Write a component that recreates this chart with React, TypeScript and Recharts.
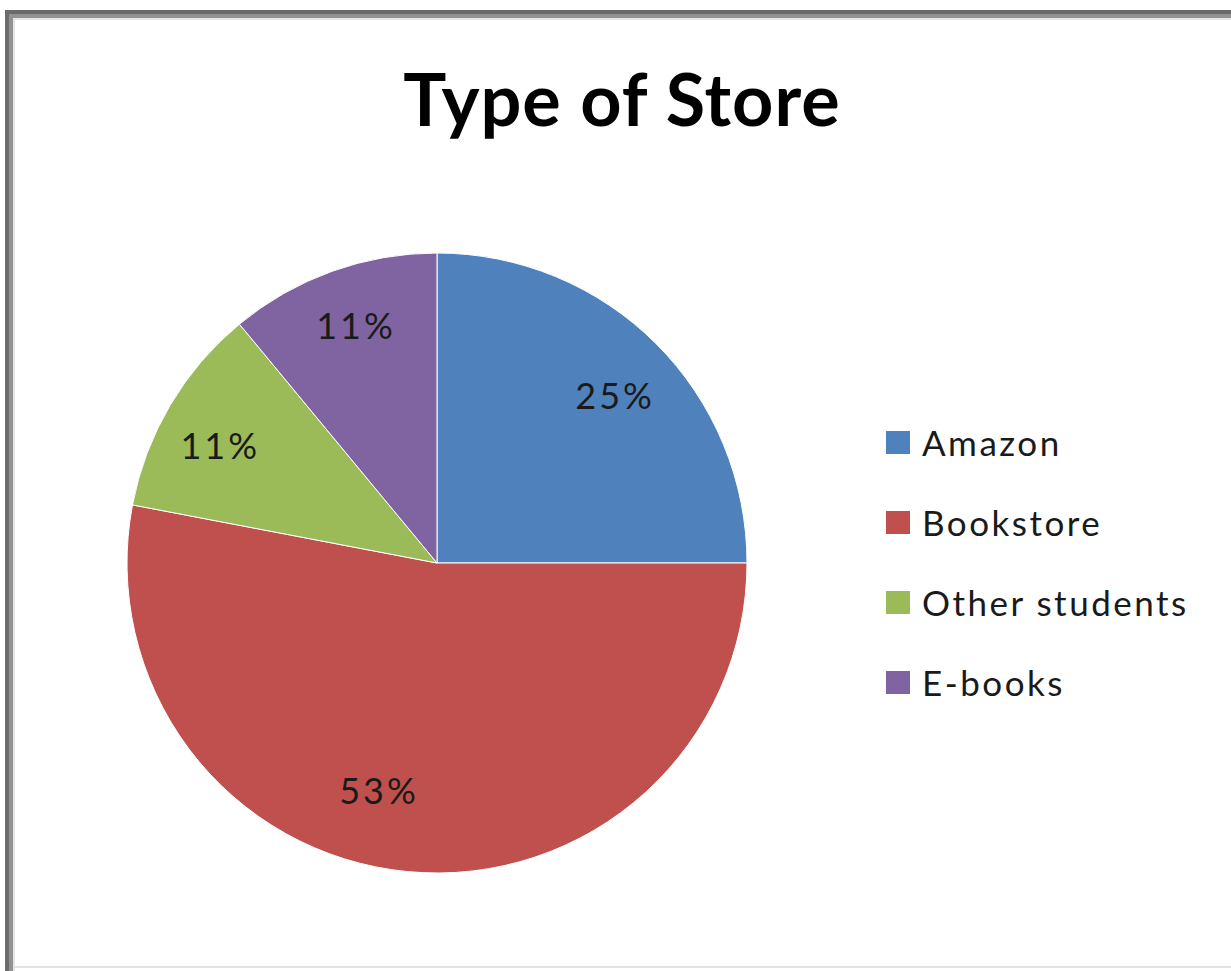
import React from "react";
import { PieChart, Pie, Cell } from "recharts";

const categories = ["Amazon", "Bookstore", "Other students", "E-books"];
const values = [25, 53, 11, 11];
const colors = ["#4F81BD", "#C0504D", "#9BBB59", "#8064A2"];
const titleText = "Type of Store";

const data = categories.map((name, i) => ({ name, value: values[i] }));

const FONT = "Lato, 'Open Sans', sans-serif";
const RAD = Math.PI / 180;
// small best-fit style adjustments of label placement (dx, dy)
const labelNudge: [number, number][] = [[5, 5], [-35, -17], [-6, 7], [2, -8]];

const renderLabel = (props: any) => {
  const { cx, cy, midAngle, outerRadius, value, index } = props;
  const r = outerRadius * 0.79;
  const n = labelNudge[index] || [0, 0];
  const x = cx + r * Math.cos(-midAngle * RAD) + n[0];
  const y = cy + r * Math.sin(-midAngle * RAD) + n[1];
  return (
    <text x={x} y={y} fill="#1a1a1a" textAnchor="middle" dominantBaseline="central" fontSize={36} letterSpacing={3} fontFamily={FONT}>
      {`${value}%`}
    </text>
  );
};

export default function App() {
  return (
    <div style={{ position: "absolute", left: 0, top: 0, width: 1231, height: 971, background: "#fff", overflow: "hidden" }}>
      <div style={{ position: "absolute", left: 5, top: 10, width: 1300, height: 1000, borderLeft: "4px solid #6b6b6b", borderTop: "4px solid #6b6b6b" }} />
      <div style={{ position: "absolute", left: 9, top: 14, width: 1300, height: 1000, borderLeft: "4px solid #929292", borderTop: "4px solid #929292" }} />
      <div style={{ position: "absolute", left: 13, top: 18, width: 1300, height: 1000, borderLeft: "2px solid #e6e6e6", borderTop: "2px solid #e6e6e6" }} />
      <div style={{ position: "absolute", left: 13, top: 966, width: 1300, height: 2, background: "#e3e3e3" }} />
      <div style={{ position: "absolute", left: 0, top: 62, width: 1244, textAlign: "center", fontFamily: FONT, fontWeight: 700, fontSize: 72, lineHeight: "72px", letterSpacing: 1, color: "#000" }}>
        {titleText}
      </div>
      <div style={{ position: "absolute", left: 0, top: 0 }}>
        <PieChart width={1231} height={971} margin={{ top: 0, right: 0, bottom: 0, left: 0 }}>
          <Pie
            data={data}
            dataKey="value"
            nameKey="name"
            cx={437}
            cy={563}
            outerRadius={310}
            startAngle={90}
            endAngle={-270}
            stroke="#ffffff"
            strokeWidth={1}
            label={renderLabel}
            labelLine={false}
            isAnimationActive={false}
          >
            {data.map((d, i) => (
              <Cell key={d.name} fill={colors[i]} />
            ))}
          </Pie>
        </PieChart>
      </div>
      <div style={{ position: "absolute", left: 886, top: 402, fontFamily: FONT }}>
        {categories.map((c, i) => (
          <div key={c} style={{ display: "flex", alignItems: "center", height: 80 }}>
            <div style={{ width: 24, height: 23, background: colors[i], marginRight: 12 }} />
            <span style={{ fontSize: 35, letterSpacing: 2.5, color: "#1a1a1a" }}>{c}</span>
          </div>
        ))}
      </div>
    </div>
  );
}
